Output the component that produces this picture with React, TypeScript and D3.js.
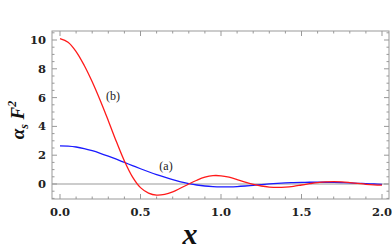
import React from 'react';
import * as d3 from 'd3';

const xs = [
  0, 0.05, 0.1, 0.15, 0.2, 0.25, 0.3, 0.35, 0.4, 0.45, 0.5, 0.55, 0.6, 0.65, 0.7, 0.75, 0.8, 0.85, 0.9, 0.95,
  1.0, 1.05, 1.1, 1.15, 1.2, 1.25, 1.3, 1.35, 1.4, 1.45, 1.5, 1.55, 1.6, 1.65, 1.7, 1.75, 1.8, 1.85, 1.9, 1.95, 2.0
];

// curve (b)
const redVals = [
  10.1, 9.85, 9.2, 8.25, 7.1, 5.8, 4.4, 2.95, 1.6, 0.5, -0.25, -0.63, -0.77, -0.72, -0.55, -0.28, 0.0, 0.26, 0.47, 0.58,
  0.57, 0.47, 0.31, 0.13, -0.03, -0.14, -0.21, -0.24, -0.22, -0.16, -0.07, 0.02, 0.1, 0.15, 0.17, 0.15, 0.1, 0.04, -0.02, -0.06, -0.08
];

// curve (a)
const blueVals = [
  2.65, 2.63, 2.57, 2.46, 2.31, 2.13, 1.93, 1.72, 1.5, 1.28, 1.06, 0.85, 0.65, 0.47, 0.3, 0.15, 0.03, -0.07, -0.14, -0.18,
  -0.2, -0.2, -0.18, -0.14, -0.09, -0.04, 0.01, 0.05, 0.08, 0.1, 0.11, 0.12, 0.12, 0.12, 0.11, 0.1, 0.08, 0.05, 0.03, 0.0, -0.03
];

const xTicks = [0, 0.5, 1.0, 1.5, 2.0];
const yTicks = [0, 2, 4, 6, 8, 10];

const W = 392;
const H = 251;
const left = 52, right = 389, top = 31, bottom = 199;
const frameColor = '#999';
const serif = '"DejaVu Serif", "Liberation Serif", serif';
const times = '"Liberation Serif", serif';

export default function App() {
  const x = d3.scaleLinear().domain([0, 2]).range([60, 382]);
  const y = d3.scaleLinear().domain([0, 10]).range([184, 40]);

  const line = d3
    .line<number>()
    .x((d, i) => x(xs[i]))
    .y(d => y(d))
    .curve(d3.curveCatmullRom.alpha(0.5));

  const xMinor = d3.range(0, 2.001, 0.1).filter(v => Math.abs(v * 2 - Math.round(v * 2)) > 1e-6);
  const yMinor = d3.range(-1, 10.6, 0.5).filter(v => Math.abs(v / 2 - Math.round(v / 2)) > 1e-6);

  return (
    <svg width={W} height={H} style={{ position: 'absolute', left: 0, top: 0 }}>
      <defs>
        <clipPath id="plot">
          <rect x={left} y={top} width={right - left} height={bottom - top} />
        </clipPath>
      </defs>
      {/* zero line */}
      <line x1={left} x2={right} y1={y(0)} y2={y(0)} stroke="#bbb" strokeWidth={1.6} />
      <g clipPath="url(#plot)" fill="none" strokeWidth={1.3}>
        <path d={line(blueVals) || ''} stroke="#1a1aff" />
        <path d={line(redVals) || ''} stroke="#ff1a1a" />
      </g>
      {/* frame */}
      <rect x={left} y={top} width={right - left} height={bottom - top} fill="none" stroke={frameColor} strokeWidth={1} />
      {/* x ticks */}
      {xTicks.map(t => (
        <g key={'xt' + t} stroke={frameColor}>
          <line x1={x(t)} x2={x(t)} y1={bottom} y2={bottom - 5} />
          <line x1={x(t)} x2={x(t)} y1={top} y2={top + 5} />
        </g>
      ))}
      {xMinor.map(t => (
        <g key={'xm' + t} stroke={frameColor}>
          <line x1={x(t)} x2={x(t)} y1={bottom} y2={bottom - 2.5} />
          <line x1={x(t)} x2={x(t)} y1={top} y2={top + 2.5} />
        </g>
      ))}
      {yTicks.map(t => (
        <g key={'yt' + t} stroke={frameColor}>
          <line x1={left} x2={left + 5} y1={y(t)} y2={y(t)} />
          <line x1={right} x2={right - 5} y1={y(t)} y2={y(t)} />
        </g>
      ))}
      {yMinor.map(t => (
        <g key={'ym' + t} stroke={frameColor}>
          <line x1={left} x2={left + 2.5} y1={y(t)} y2={y(t)} />
          <line x1={right} x2={right - 2.5} y1={y(t)} y2={y(t)} />
        </g>
      ))}
      {/* tick labels */}
      <g style={{ fontFamily: serif, fontWeight: 'bold', fontSize: 11.5 }} fill="#222">
        {xTicks.map(t => (
          <text key={'xl' + t} x={x(t)} y={215.5} textAnchor="middle">
            {t.toFixed(1)}
          </text>
        ))}
        {yTicks.map(t => (
          <text key={'yl' + t} x={46} y={y(t) + 4} textAnchor="end">
            {t}
          </text>
        ))}
      </g>
      {/* curve labels */}
      <g style={{ fontFamily: times, fontSize: 12 }} fill="#222">
        <text x={113} y={100} textAnchor="middle">(b)</text>
        <text x={166} y={170} textAnchor="middle">(a)</text>
      </g>
      {/* axis titles */}
      <text x={190} y={244} textAnchor="middle" style={{ fontFamily: times, fontWeight: 'bold', fontStyle: 'italic', fontSize: 30 }} fill="#111">
        x
      </text>
      <text
        transform="translate(24,120) rotate(-90)"
        textAnchor="middle"
        style={{ fontFamily: times, fontWeight: 'bold', fontStyle: 'italic', fontSize: 19 }}
        fill="#111"
      >
        α<tspan fontSize={12} dy={4}>s</tspan>
        <tspan dy={-4}> F</tspan>
        <tspan fontSize={12} dy={-8}>2</tspan>
      </text>
    </svg>
  );
}
